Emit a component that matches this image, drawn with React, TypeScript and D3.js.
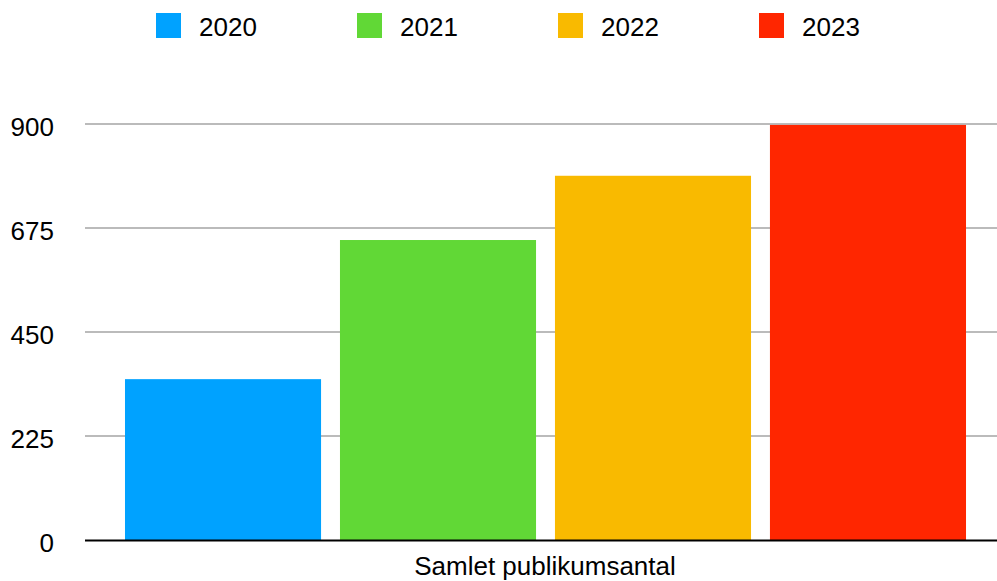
import React from 'react';
import * as d3 from 'd3';

const years = ['2020', '2021', '2022', '2023'];
const values = [348, 649, 788, 898];
const colors = ['#00A2FF', '#61D836', '#F9BA00', '#FF2600'];
const yTicks = [0, 225, 450, 675, 900];
const category = 'Samlet publikumsantal';

const W = 997;
const H = 581;
const FONT = '"Liberation Sans", Arial, Helvetica, sans-serif';

export default function App() {
  const y = d3.scaleLinear().domain([0, 900]).range([540, 124]);
  const x = d3.scaleBand<string>()
    .domain(years)
    .range([85, 1006])
    .paddingInner(0.088)
    .paddingOuter(0.186);

  return (
    <svg width={W} height={H} style={{ position: 'absolute', left: 0, top: 0 }} fontFamily={FONT}>
      <rect width={W} height={H} fill="white" />

      {/* legend */}
      {years.map((yr, i) => (
        <g key={'lg' + yr} transform={'translate(' + (156 + i * 201) + ',13)'}>
          <rect width={25} height={25} fill={colors[i]} />
          <text x={43} y={22.5} fontSize={26} fill="#000">{yr}</text>
        </g>
      ))}

      {/* grid + y labels */}
      {yTicks.map(t => (
        <g key={'t' + t}>
          {t > 0 && <line x1={85} x2={W} y1={y(t)} y2={y(t)} stroke="#BBBBBB" strokeWidth={2.2} />}
          <text x={54} y={y(t) + 12} textAnchor="end" fontSize={26} fill="#000">{t}</text>
        </g>
      ))}

      {/* bars */}
      {years.map((yr, i) => (
        <rect key={'b' + yr} x={x(yr)} y={y(values[i])} width={x.bandwidth()}
          height={y(0) - y(values[i])} fill={colors[i]} />
      ))}

      <line x1={85} x2={W} y1={y(0) + 0.5} y2={y(0) + 0.5} stroke="#000" strokeWidth={2} />

      <text x={545} y={575} textAnchor="middle" fontSize={26} fill="#000">{category}</text>
    </svg>
  );
}
